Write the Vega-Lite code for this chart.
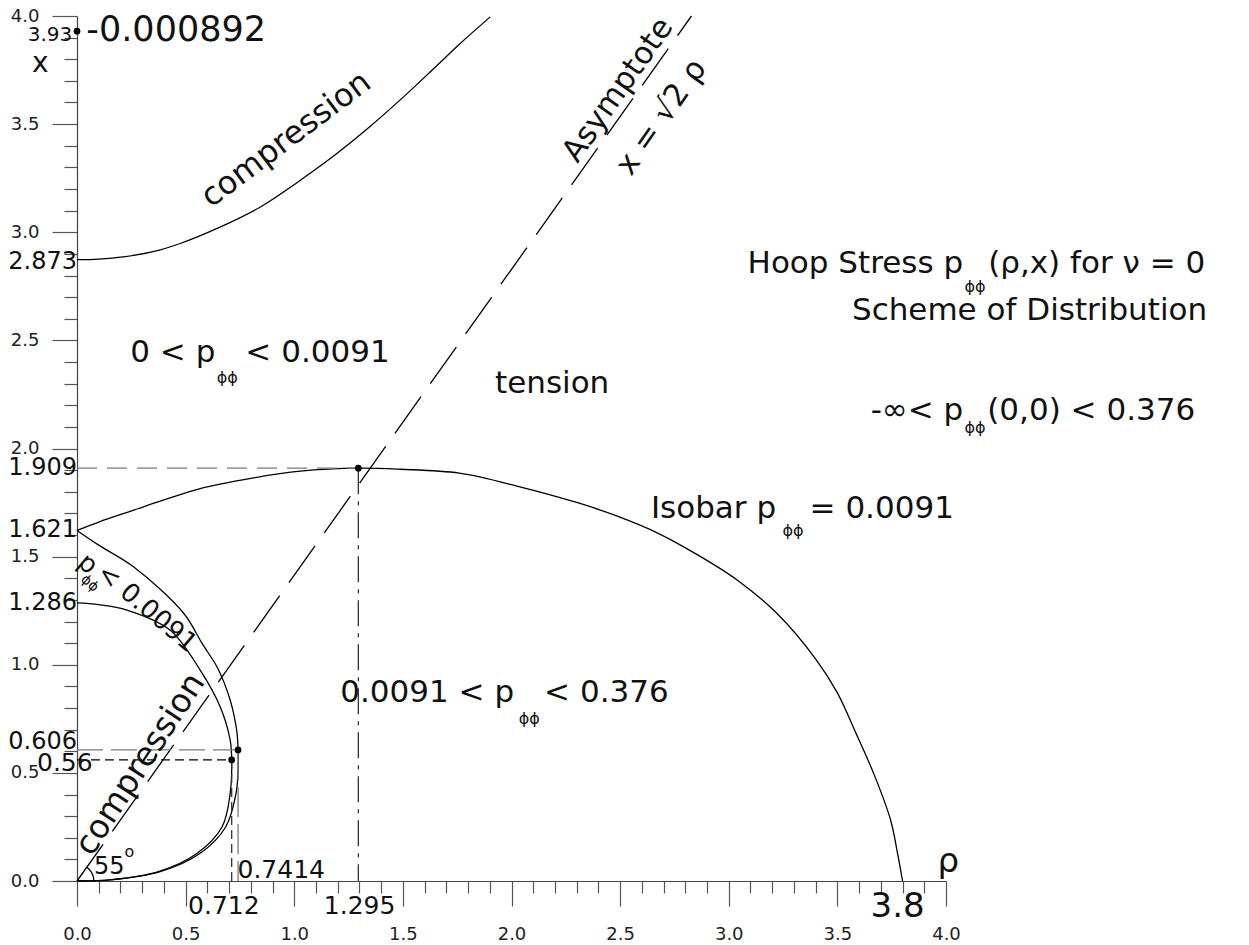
{
  "$schema": "https://vega.github.io/schema/vega-lite/v6.json",
  "width": 869,
  "height": 865,
  "autosize": "none",
  "padding": {"left": 77, "top": 16, "right": 303, "bottom": 64},
  "background": "white",
  "config": {"font": "DejaVu Sans", "view": {"stroke": null}},
  "datasets": {
    "curves": [
      {"s": "upper", "i": 0, "rho": 0, "x": 2.873},
      {"s": "upper", "i": 1, "rho": 0.1, "x": 2.876},
      {"s": "upper", "i": 2, "rho": 0.214, "x": 2.886},
      {"s": "upper", "i": 3, "rho": 0.35, "x": 2.91},
      {"s": "upper", "i": 4, "rho": 0.475, "x": 2.948},
      {"s": "upper", "i": 5, "rho": 0.65, "x": 3.02},
      {"s": "upper", "i": 6, "rho": 0.844, "x": 3.117},
      {"s": "upper", "i": 7, "rho": 1.02, "x": 3.235},
      {"s": "upper", "i": 8, "rho": 1.196, "x": 3.364},
      {"s": "upper", "i": 9, "rho": 1.35, "x": 3.49},
      {"s": "upper", "i": 10, "rho": 1.503, "x": 3.626},
      {"s": "upper", "i": 11, "rho": 1.64, "x": 3.755},
      {"s": "upper", "i": 12, "rho": 1.764, "x": 3.873},
      {"s": "upper", "i": 13, "rho": 1.902, "x": 3.996},
      {"s": "isobar", "i": 0, "rho": 0, "x": 1.621},
      {"s": "isobar", "i": 1, "rho": 0.1, "x": 1.66},
      {"s": "isobar", "i": 2, "rho": 0.261, "x": 1.715},
      {"s": "isobar", "i": 3, "rho": 0.4, "x": 1.762},
      {"s": "isobar", "i": 4, "rho": 0.567, "x": 1.815},
      {"s": "isobar", "i": 5, "rho": 0.8, "x": 1.862},
      {"s": "isobar", "i": 6, "rho": 1.028, "x": 1.895},
      {"s": "isobar", "i": 7, "rho": 1.295, "x": 1.909},
      {"s": "isobar", "i": 8, "rho": 1.487, "x": 1.904},
      {"s": "isobar", "i": 9, "rho": 1.76, "x": 1.886},
      {"s": "isobar", "i": 10, "rho": 2.034, "x": 1.824},
      {"s": "isobar", "i": 11, "rho": 2.308, "x": 1.748},
      {"s": "isobar", "i": 12, "rho": 2.49, "x": 1.686},
      {"s": "isobar", "i": 13, "rho": 2.673, "x": 1.609},
      {"s": "isobar", "i": 14, "rho": 2.855, "x": 1.509},
      {"s": "isobar", "i": 15, "rho": 3.037, "x": 1.393},
      {"s": "isobar", "i": 16, "rho": 3.22, "x": 1.239},
      {"s": "isobar", "i": 17, "rho": 3.402, "x": 1.024},
      {"s": "isobar", "i": 18, "rho": 3.5, "x": 0.87},
      {"s": "isobar", "i": 19, "rho": 3.585, "x": 0.685},
      {"s": "isobar", "i": 20, "rho": 3.672, "x": 0.485},
      {"s": "isobar", "i": 21, "rho": 3.745, "x": 0.282},
      {"s": "isobar", "i": 22, "rho": 3.777, "x": 0.128},
      {"s": "isobar", "i": 23, "rho": 3.8, "x": 0},
      {"s": "inner1", "i": 0, "rho": 0, "x": 1.621},
      {"s": "inner1", "i": 1, "rho": 0.1, "x": 1.553},
      {"s": "inner1", "i": 2, "rho": 0.26, "x": 1.453},
      {"s": "inner1", "i": 3, "rho": 0.491, "x": 1.238},
      {"s": "inner1", "i": 4, "rho": 0.575, "x": 1.1},
      {"s": "inner1", "i": 5, "rho": 0.644, "x": 0.991},
      {"s": "inner1", "i": 6, "rho": 0.678, "x": 0.915},
      {"s": "inner1", "i": 7, "rho": 0.705, "x": 0.837},
      {"s": "inner1", "i": 8, "rho": 0.723, "x": 0.765},
      {"s": "inner1", "i": 9, "rho": 0.736, "x": 0.69},
      {"s": "inner1", "i": 10, "rho": 0.7414, "x": 0.606},
      {"s": "inner1", "i": 11, "rho": 0.741, "x": 0.5},
      {"s": "inner1", "i": 12, "rho": 0.732, "x": 0.405},
      {"s": "inner1", "i": 13, "rho": 0.685, "x": 0.251},
      {"s": "inner1", "i": 14, "rho": 0.567, "x": 0.128},
      {"s": "inner1", "i": 15, "rho": 0.383, "x": 0.043},
      {"s": "inner1", "i": 16, "rho": 0.153, "x": 0.005},
      {"s": "inner1", "i": 17, "rho": 0, "x": 0},
      {"s": "inner2", "i": 0, "rho": 0, "x": 1.286},
      {"s": "inner2", "i": 1, "rho": 0.1, "x": 1.278},
      {"s": "inner2", "i": 2, "rho": 0.23, "x": 1.253},
      {"s": "inner2", "i": 3, "rho": 0.429, "x": 1.16},
      {"s": "inner2", "i": 4, "rho": 0.567, "x": 0.975},
      {"s": "inner2", "i": 5, "rho": 0.659, "x": 0.806},
      {"s": "inner2", "i": 6, "rho": 0.705, "x": 0.652},
      {"s": "inner2", "i": 7, "rho": 0.712, "x": 0.56},
      {"s": "inner2", "i": 8, "rho": 0.705, "x": 0.405},
      {"s": "inner2", "i": 9, "rho": 0.668, "x": 0.251},
      {"s": "inner2", "i": 10, "rho": 0.553, "x": 0.128},
      {"s": "inner2", "i": 11, "rho": 0.375, "x": 0.043},
      {"s": "inner2", "i": 12, "rho": 0.153, "x": 0.005},
      {"s": "inner2", "i": 13, "rho": 0, "x": 0}
    ],
    "guides": [
      {"s": "asymptote", "i": 0, "rho": 0, "x": 0},
      {"s": "asymptote", "i": 1, "rho": 2.8284, "x": 4},
      {"s": "h1909", "i": 0, "rho": 0, "x": 1.909},
      {"s": "h1909", "i": 1, "rho": 1.295, "x": 1.909},
      {"s": "v1295", "i": 0, "rho": 1.295, "x": 1.909},
      {"s": "v1295", "i": 1, "rho": 1.295, "x": 0},
      {"s": "h0606", "i": 0, "rho": 0, "x": 0.606},
      {"s": "h0606", "i": 1, "rho": 0.7414, "x": 0.606},
      {"s": "v07414", "i": 0, "rho": 0.7414, "x": 0.606},
      {"s": "v07414", "i": 1, "rho": 0.7414, "x": 0},
      {"s": "h056", "i": 0, "rho": 0, "x": 0.56},
      {"s": "h056", "i": 1, "rho": 0.712, "x": 0.56},
      {"s": "v0712", "i": 0, "rho": 0.712, "x": 0.56},
      {"s": "v0712", "i": 1, "rho": 0.712, "x": 0},
      {"s": "arc", "i": 0, "rho": 0.078, "x": 0},
      {"s": "arc", "i": 1, "rho": 0.0753, "x": 0.0202},
      {"s": "arc", "i": 2, "rho": 0.0675, "x": 0.039},
      {"s": "arc", "i": 3, "rho": 0.0552, "x": 0.0552},
      {"s": "arc", "i": 4, "rho": 0.045, "x": 0.0637}
    ],
    "points": [
      {"rho": 0, "x": 3.93},
      {"rho": 1.295, "x": 1.909},
      {"rho": 0.7414, "x": 0.606},
      {"rho": 0.712, "x": 0.56}
    ],
    "labels": [
      {"g": "axr", "rho": 0, "x": 2.862, "t": "2.873"},
      {"g": "axr", "rho": 0, "x": 1.909, "t": "1.909"},
      {"g": "axr", "rho": 0, "x": 1.623, "t": "1.621"},
      {"g": "axr", "rho": 0, "x": 1.286, "t": "1.286"},
      {"g": "axr", "rho": 0, "x": 0.643, "t": "0.606"},
      {"g": "axc", "rho": 0.676, "x": -0.116, "t": "0.712"},
      {"g": "axc", "rho": 1.301, "x": -0.116, "t": "1.295"},
      {"g": "axc", "rho": 0.94, "x": 0.051, "t": "0.7414"},
      {"g": "axc", "rho": -0.056, "x": 0.546, "t": "0.56"},
      {"g": "big", "rho": 3.777, "x": -0.118, "t": "3.8"},
      {"g": "big", "rho": 4.01, "x": 0.088, "t": "ρ"},
      {"g": "val", "rho": 0.043, "x": 3.934, "t": "-0.000892"},
      {"g": "small", "rho": -0.022, "x": 3.911, "t": "3.93"},
      {"g": "xt", "rho": -0.169, "x": 3.78, "t": "x"},
      {"g": "tr", "rho": 4.079, "x": 2.811, "t": "Hoop Stress p"},
      {"g": "tr", "rho": 5.202, "x": 2.594, "t": "Scheme of Distribution"},
      {"g": "tr", "rho": 4.079, "x": 2.131, "t": "-∞< p"},
      {"g": "tr", "rho": 3.218, "x": 1.678, "t": "Isobar p"},
      {"g": "tr", "rho": 2.012, "x": 0.828, "t": "0.0091 < p"},
      {"g": "tr", "rho": 0.637, "x": 2.399, "t": "0 < p"},
      {"g": "tl", "rho": 4.194, "x": 2.811, "t": "(ρ,x) for ν = 0"},
      {"g": "tl", "rho": 4.19, "x": 2.131, "t": "(0,0) < 0.376"},
      {"g": "tl", "rho": 3.372, "x": 1.678, "t": "= 0.0091"},
      {"g": "tl", "rho": 2.15, "x": 0.828, "t": "< 0.376"},
      {"g": "tl", "rho": 0.775, "x": 2.399, "t": "< 0.0091"},
      {"g": "tc", "rho": 2.187, "x": 2.256, "t": "tension"},
      {"g": "sub", "rho": 4.134, "x": 2.746, "t": "ϕϕ"},
      {"g": "sub", "rho": 4.134, "x": 2.094, "t": "ϕϕ"},
      {"g": "sub", "rho": 3.296, "x": 1.618, "t": "ϕϕ"},
      {"g": "sub", "rho": 2.082, "x": 0.749, "t": "ϕϕ"},
      {"g": "sub", "rho": 0.692, "x": 2.325, "t": "ϕϕ"},
      {"g": "sub", "rho": 0.241, "x": 0.134, "t": "o"},
      {"g": "deg", "rho": 0.149, "x": 0.065, "t": "55"},
      {"g": "rot37", "rho": 0.962, "x": 3.43, "t": "compression"},
      {"g": "rot57", "rho": 0.291, "x": 0.54, "t": "compression"},
      {"g": "rot55", "rho": 2.492, "x": 3.657, "t": "Asymptote"},
      {"g": "rot55", "rho": 2.692, "x": 3.531, "t": "x = √2 ρ"},
      {"g": "rot40", "rho": 0.049, "x": 1.466, "t": "p"},
      {"g": "rot40", "rho": 0.322, "x": 1.261, "t": "< 0.0091"},
      {"g": "rot40s", "rho": 0.058, "x": 1.376, "t": "ϕϕ"}
    ]
  },
  "encoding": {
    "x": {
      "field": "rho", "type": "quantitative",
      "scale": {"domain": [0, 4], "nice": false, "zero": false},
      "axis": {
        "title": null, "grid": false,
        "values": [0,0.1,0.2,0.3,0.4,0.5,0.6,0.7,0.8,0.9,1,1.1,1.2,1.3,1.4,1.5,1.6,1.7,1.8,1.9,2,2.1,2.2,2.3,2.4,2.5,2.6,2.7,2.8,2.9,3,3.1,3.2,3.3,3.4,3.5,3.6,3.7,3.8,3.9,4],
        "tickSize": {"condition": {"test": "abs(datum.value*2 - round(datum.value*2)) < 0.01", "value": 25}, "value": 12},
        "labelExpr": "abs(datum.value*2 - round(datum.value*2)) < 0.01 ? format(datum.value, '.1f') : ''",
        "labelFontSize": 18, "labelColor": "#222", "labelPadding": 19,
        "labelFlush": false, "labelOverlap": false, "labelBound": false,
        "domainColor": "#444", "tickColor": "#555", "domainWidth": 1.2, "tickWidth": 1.2
      }
    },
    "y": {
      "field": "x", "type": "quantitative",
      "scale": {"domain": [0, 4], "nice": false, "zero": false},
      "axis": {
        "title": null, "grid": false,
        "values": [0,0.1,0.2,0.3,0.4,0.5,0.6,0.7,0.8,0.9,1,1.1,1.2,1.3,1.4,1.5,1.6,1.7,1.8,1.9,2,2.1,2.2,2.3,2.4,2.5,2.6,2.7,2.8,2.9,3,3.1,3.2,3.3,3.4,3.5,3.6,3.7,3.8,3.9,4],
        "tickSize": {"condition": {"test": "abs(datum.value*2 - round(datum.value*2)) < 0.01", "value": 25}, "value": 13},
        "labelExpr": "abs(datum.value*2 - round(datum.value*2)) < 0.01 ? format(datum.value, '.1f') : ''",
        "labelFontSize": 18, "labelColor": "#222", "labelPadding": 13,
        "labelFlush": false, "labelOverlap": false, "labelBound": false,
        "domainColor": "#444", "tickColor": "#555", "domainWidth": 1.2, "tickWidth": 1.2
      }
    }
  },
  "layer": [
    {
      "data": {"name": "curves"},
      "mark": {"type": "line", "strokeWidth": 1.3, "color": "#000", "interpolate": "catmull-rom", "clip": false},
      "encoding": {
        "detail": {"field": "s"},
        "order": {"field": "i", "type": "quantitative"}
      }
    },
    {
      "data": {"name": "guides"},
      "mark": {"type": "line", "strokeWidth": 1.3, "clip": false},
      "encoding": {
        "detail": {"field": "s"},
        "order": {"field": "i", "type": "quantitative"},
        "color": {
          "field": "s", "type": "nominal", "legend": null,
          "scale": {
            "domain": ["asymptote","h1909","v1295","h0606","v07414","h056","v0712","arc"],
            "range": ["#000","#7a7a7a","#333","#7a7a7a","#7a7a7a","#000","#333","#000"]
          }
        },
        "strokeDash": {
          "field": "s", "type": "nominal", "legend": null,
          "scale": {
            "domain": ["asymptote","h1909","v1295","h0606","v07414","h056","v0712","arc"],
            "range": [[45,16],[20,10],[26,7,4,7],[26,8],[30,7],[9,5],[9,5],[1,0]]
          }
        }
      }
    },
    {
      "data": {"name": "points"},
      "mark": {"type": "point", "filled": true, "size": 45, "color": "#000", "opacity": 1}
    },
    {
      "data": {"name": "labels"}, "transform": [{"filter": "datum.g == 'axr'"}],
      "mark": {"type": "text", "fontSize": 24, "align": "right", "baseline": "middle", "color": "#111"},
      "encoding": {"text": {"field": "t"}}
    },
    {
      "data": {"name": "labels"}, "transform": [{"filter": "datum.g == 'axc'"}],
      "mark": {"type": "text", "fontSize": 25, "align": "center", "baseline": "middle", "color": "#111"},
      "encoding": {"text": {"field": "t"}}
    },
    {
      "data": {"name": "labels"}, "transform": [{"filter": "datum.g == 'big'"}],
      "mark": {"type": "text", "fontSize": 34, "align": "center", "baseline": "middle", "color": "#111"},
      "encoding": {"text": {"field": "t"}}
    },
    {
      "data": {"name": "labels"}, "transform": [{"filter": "datum.g == 'val'"}],
      "mark": {"type": "text", "fontSize": 35, "align": "left", "baseline": "middle", "color": "#111"},
      "encoding": {"text": {"field": "t"}}
    },
    {
      "data": {"name": "labels"}, "transform": [{"filter": "datum.g == 'small'"}],
      "mark": {"type": "text", "fontSize": 20, "align": "right", "baseline": "middle", "color": "#111"},
      "encoding": {"text": {"field": "t"}}
    },
    {
      "data": {"name": "labels"}, "transform": [{"filter": "datum.g == 'xt'"}],
      "mark": {"type": "text", "fontSize": 28, "align": "center", "baseline": "middle", "color": "#111"},
      "encoding": {"text": {"field": "t"}}
    },
    {
      "data": {"name": "labels"}, "transform": [{"filter": "datum.g == 'tr'"}],
      "mark": {"type": "text", "fontSize": 31, "align": "right", "baseline": "alphabetic", "color": "#111"},
      "encoding": {"text": {"field": "t"}}
    },
    {
      "data": {"name": "labels"}, "transform": [{"filter": "datum.g == 'tl'"}],
      "mark": {"type": "text", "fontSize": 31, "align": "left", "baseline": "alphabetic", "color": "#111"},
      "encoding": {"text": {"field": "t"}}
    },
    {
      "data": {"name": "labels"}, "transform": [{"filter": "datum.g == 'tc'"}],
      "mark": {"type": "text", "fontSize": 31, "align": "center", "baseline": "alphabetic", "color": "#111"},
      "encoding": {"text": {"field": "t"}}
    },
    {
      "data": {"name": "labels"}, "transform": [{"filter": "datum.g == 'sub'"}],
      "mark": {"type": "text", "fontSize": 16, "align": "center", "baseline": "middle", "color": "#111"},
      "encoding": {"text": {"field": "t"}}
    },
    {
      "data": {"name": "labels"}, "transform": [{"filter": "datum.g == 'deg'"}],
      "mark": {"type": "text", "fontSize": 24, "align": "center", "baseline": "middle", "color": "#111"},
      "encoding": {"text": {"field": "t"}}
    },
    {
      "data": {"name": "labels"}, "transform": [{"filter": "datum.g == 'rot37'"}],
      "mark": {"type": "text", "fontSize": 32, "align": "center", "baseline": "middle", "angle": -37, "color": "#111"},
      "encoding": {"text": {"field": "t"}}
    },
    {
      "data": {"name": "labels"}, "transform": [{"filter": "datum.g == 'rot57'"}],
      "mark": {"type": "text", "fontSize": 33, "align": "center", "baseline": "middle", "angle": -57, "color": "#111"},
      "encoding": {"text": {"field": "t"}}
    },
    {
      "data": {"name": "labels"}, "transform": [{"filter": "datum.g == 'rot55'"}],
      "mark": {"type": "text", "fontSize": 31, "align": "center", "baseline": "middle", "angle": -55, "color": "#111"},
      "encoding": {"text": {"field": "t"}}
    },
    {
      "data": {"name": "labels"}, "transform": [{"filter": "datum.g == 'rot40'"}],
      "mark": {"type": "text", "fontSize": 26, "align": "center", "baseline": "middle", "angle": 40, "color": "#111"},
      "encoding": {"text": {"field": "t"}}
    },
    {
      "data": {"name": "labels"}, "transform": [{"filter": "datum.g == 'rot40s'"}],
      "mark": {"type": "text", "fontSize": 14, "align": "center", "baseline": "middle", "angle": 40, "color": "#111"},
      "encoding": {"text": {"field": "t"}}
    }
  ]
}
